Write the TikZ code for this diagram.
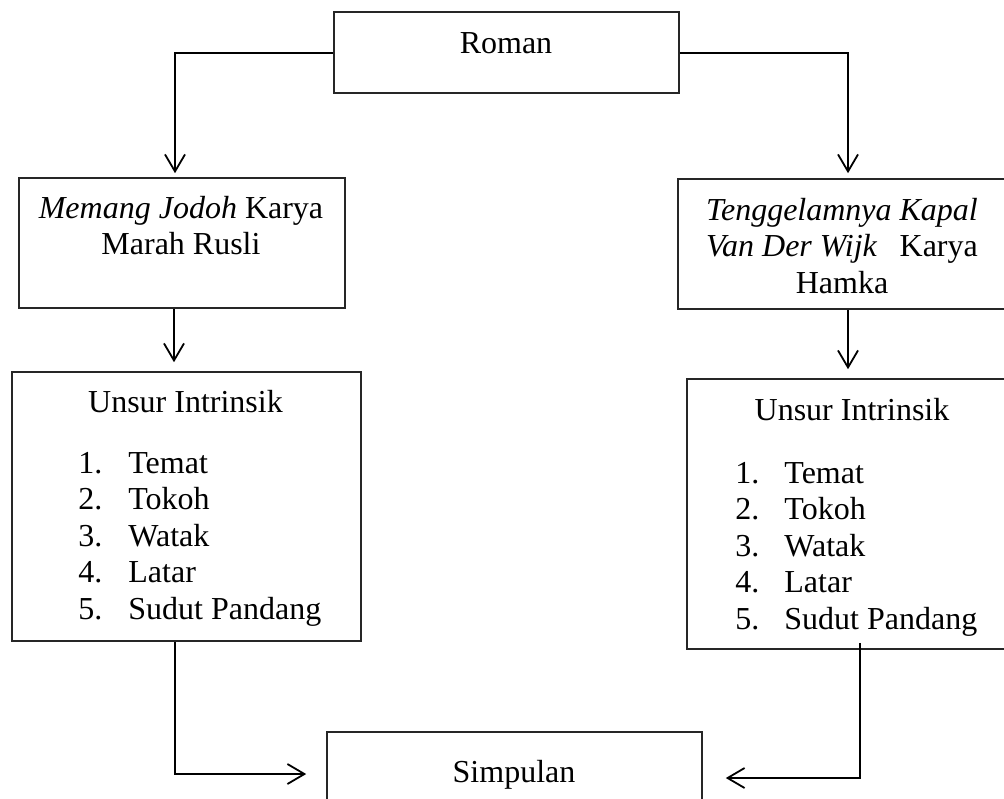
\documentclass[tikz,border=0pt]{standalone}
\usepackage{fontspec}
\setmainfont{Liberation Serif}
\usetikzlibrary{arrows.meta}
\begin{document}
\begin{tikzpicture}[x=0.5pt,y=-0.5pt,
  box/.style={draw=black!85, line width=0.8pt, rectangle, inner sep=0pt},
  txt/.style={inner sep=0pt, font=\fontsize{16}{18.3}\selectfont},
  arr/.style={draw=black, line width=1pt, -{Straight Barb[length=8.5pt,width=10pt,line width=0.9pt]}}]
\useasboundingbox (0,0) rectangle (1004,798);
\fill[white] (0,0) rectangle (1004,798);
\clip (0,0) rectangle (1004,798);
% boxes
\node[box, minimum width=172.5pt, minimum height=40.5pt] (roman) at (506.5,52.5) {};
\node[box, minimum width=163pt, minimum height=65pt] (mj) at (182,243) {};
\node[box, minimum width=170pt, minimum height=65pt] (tk) at (848,244) {};
\node[box, minimum width=174.5pt, minimum height=134.5pt] (ul) at (186.5,506.5) {};
\node[box, minimum width=165pt, minimum height=135pt] (ur) at (852,514) {};
\node[box, minimum width=187.5pt, minimum height=44pt] (simp) at (514.5,776) {};
% texts
\node[txt, anchor=base] (romantxt) at (506,53) {Roman};
\node[txt, anchor=base] (mjtxt) at (181,218) {\begin{tabular}[t]{@{}c@{}}\textit{Memang Jodoh} Karya\\ Marah Rusli\end{tabular}};
\node[txt, anchor=base] (tktxt) at (842,220) {\begin{tabular}[t]{@{}c@{}}\textit{Tenggelamnya Kapal}\\ \textit{Van Der Wijk}\hspace{0.7em}Karya\\ Hamka\end{tabular}};
\node[txt, anchor=base] (ultitle) at (185.5,412) {Unsur Intrinsik};
\node[txt, anchor=base west] (ullist) at (78,473) {\begin{tabular}[t]{@{}l@{}l@{}}
\makebox[25pt][l]{1.} & Temat\\
\makebox[25pt][l]{2.} & Tokoh\\
\makebox[25pt][l]{3.} & Watak\\
\makebox[25pt][l]{4.} & Latar\\
\makebox[25pt][l]{5.} & Sudut Pandang
\end{tabular}};
\node[txt, anchor=base] (urtitle) at (852,420) {Unsur Intrinsik};
\node[txt, anchor=base west] (urlist) at (735,483) {\begin{tabular}[t]{@{}l@{}l@{}}
\makebox[24.5pt][l]{1.} & Temat\\
\makebox[24.5pt][l]{2.} & Tokoh\\
\makebox[24.5pt][l]{3.} & Watak\\
\makebox[24.5pt][l]{4.} & Latar\\
\makebox[24.5pt][l]{5.} & Sudut Pandang
\end{tabular}};
\node[txt, anchor=base] (simptxt) at (514,782) {Simpulan};
% connectors
\draw[arr, shorten >=2pt] (roman.west) -| ([xshift=-3.5pt]mj.north);
\draw[arr, shorten >=2.5pt] (roman.east) -| (tk.north);
\draw[arr, shorten >=4.5pt] ([xshift=-4pt]mj.south) -- ([xshift=-4pt]mj.south |- ul.north);
\draw[arr, shorten >=4.5pt] (tk.south) -- (tk.south |- ur.north);
\draw[arr, shorten >=10pt] ([xshift=-5.75pt]ul.south) |- ([yshift=1pt]simp.west);
\draw[arr, shorten >=11.5pt] ([xshift=4pt,yshift=3.5pt]ur.south) |- ([yshift=-1pt]simp.east);
\end{tikzpicture}
\end{document}
